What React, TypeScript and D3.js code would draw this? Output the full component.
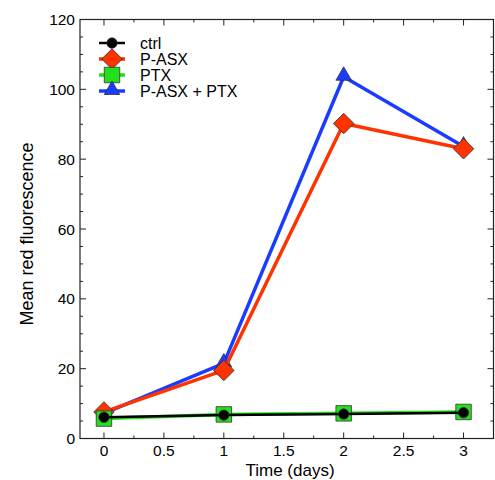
import React from "react";
import * as d3 from "d3";

const days = [0, 1, 2, 3];
const ctrl = [6.1, 6.7, 7.0, 7.4];
const pasx = [7.6, 19.5, 90.2, 83];
const ptx = [5.7, 6.9, 7.2, 7.6];
const combo = [7.2, 21.5, 103.6, 83.6];

const seriesNames = ["ctrl", "P-ASX", "PTX", "P-ASX + PTX"];
const xTicks = [0, 0.5, 1, 1.5, 2, 2.5, 3];
const yTicks = [0, 20, 40, 60, 80, 100, 120];

const App = () => {
  const ref = React.useRef<SVGSVGElement>(null);

  React.useEffect(() => {
    const svg = d3.select(ref.current);
    svg.selectAll("*").remove();

    const x = d3.scaleLinear().domain([-0.2, 3.25]).range([80, 493.5]);
    const y = d3.scaleLinear().domain([0, 120]).range([438.5, 19.5]);
    const font = "Liberation Sans, Arial, sans-serif";

    const series = [
      { name: seriesNames[3], values: combo, color: "#1a3cff", width: 3.5, marker: "tri" },
      { name: seriesNames[1], values: pasx, color: "#ff3300", width: 3.5, marker: "dia" },
      { name: seriesNames[2], values: ptx, color: "#22e01c", width: 3.5, marker: "sq" },
      { name: seriesNames[0], values: ctrl, color: "#000000", width: 2.5, marker: "circ" },
    ];

    const symbolFor = (m: string) => {
      if (m === "tri") return d3.symbol().type(d3.symbolTriangle).size(105)();
      if (m === "dia") return d3.symbol().type(d3.symbolSquare).size(210)();
      if (m === "sq") return d3.symbol().type(d3.symbolSquare).size(240)();
      return d3.symbol().type(d3.symbolCircle).size(85)();
    };
    const rotFor = (m: string) => (m === "dia" ? " rotate(45)" : "");

    // frame
    svg.append("rect")
      .attr("x", x.range()[0]).attr("y", y.range()[1])
      .attr("width", x.range()[1] - x.range()[0])
      .attr("height", y.range()[0] - y.range()[1])
      .attr("fill", "none").attr("stroke", "#222").attr("stroke-width", 1.2);

    // ticks
    const g = svg.append("g").attr("stroke", "#222").attr("stroke-width", 1);
    d3.range(0, 3.26, 0.25).forEach((t) => {
      const len = xTicks.includes(t) ? 6 : 3;
      g.append("line").attr("x1", x(t)).attr("x2", x(t)).attr("y1", y(0)).attr("y2", y(0) - len);
      g.append("line").attr("x1", x(t)).attr("x2", x(t)).attr("y1", y(120)).attr("y2", y(120) + len);
    });
    d3.range(0, 121, 5).forEach((t) => {
      const len = yTicks.includes(t) ? 6 : 3;
      g.append("line").attr("x1", x(-0.2)).attr("x2", x(-0.2) + len).attr("y1", y(t)).attr("y2", y(t));
      g.append("line").attr("x1", x(3.25)).attr("x2", x(3.25) - len).attr("y1", y(t)).attr("y2", y(t));
    });

    svg.append("g").selectAll("text").data(xTicks).join("text")
      .attr("x", (d) => x(d)).attr("y", 456)
      .attr("text-anchor", "middle").attr("font-family", font).attr("font-size", 15.5)
      .text((d) => String(d));
    svg.append("g").selectAll("text").data(yTicks).join("text")
      .attr("x", 75).attr("y", (d) => y(d) + 5.5)
      .attr("text-anchor", "end").attr("font-family", font).attr("font-size", 15.5)
      .text((d) => String(d));

    svg.append("text").attr("x", 290).attr("y", 476)
      .attr("text-anchor", "middle").attr("font-family", font).attr("font-size", 17)
      .text("Time (days)");
    svg.append("text")
      .attr("transform", `translate(33,234) rotate(-90)`)
      .attr("text-anchor", "middle").attr("font-family", font).attr("font-size", 18)
      .text("Mean red fluorescence");

    const line = d3.line<number>().x((_, i) => x(days[i])).y((d) => y(d));

    series.forEach((s) => {
      svg.append("path").attr("d", line(s.values))
        .attr("fill", "none").attr("stroke", s.color).attr("stroke-width", s.width)
        .attr("stroke-linejoin", "round");
      svg.append("g").selectAll("path").data(s.values).join("path")
        .attr("d", symbolFor(s.marker))
        .attr("transform", (d, i) => `translate(${x(days[i])},${y(d) + (s.marker === "tri" ? -1 : 0)})${rotFor(s.marker)}`)
        .attr("fill", s.color).attr("stroke", "#333").attr("stroke-width", 0.8);
    });

    // legend
    const legendOrder = [series[3], series[1], series[2], series[0]];
    const lg = svg.append("g");
    legendOrder.forEach((s, i) => {
      const ly = 43 + i * 16;
      lg.append("line").attr("x1", 99).attr("x2", 125).attr("y1", ly).attr("y2", ly)
        .attr("stroke", s.color).attr("stroke-width", s.width);
      lg.append("path").attr("d", symbolFor(s.marker))
        .attr("transform", `translate(112,${ly + (s.marker === "tri" ? -1 : 0)})${rotFor(s.marker)}`)
        .attr("fill", s.color).attr("stroke", "#333").attr("stroke-width", 0.8);
      lg.append("text").attr("x", 140).attr("y", ly + 5.5)
        .attr("font-family", font).attr("font-size", 16).text(s.name);
    });
  }, []);

  return <svg ref={ref} width={495} height={480} style={{ position: "absolute", left: 0, top: 0 }} />;
};

export default App;
